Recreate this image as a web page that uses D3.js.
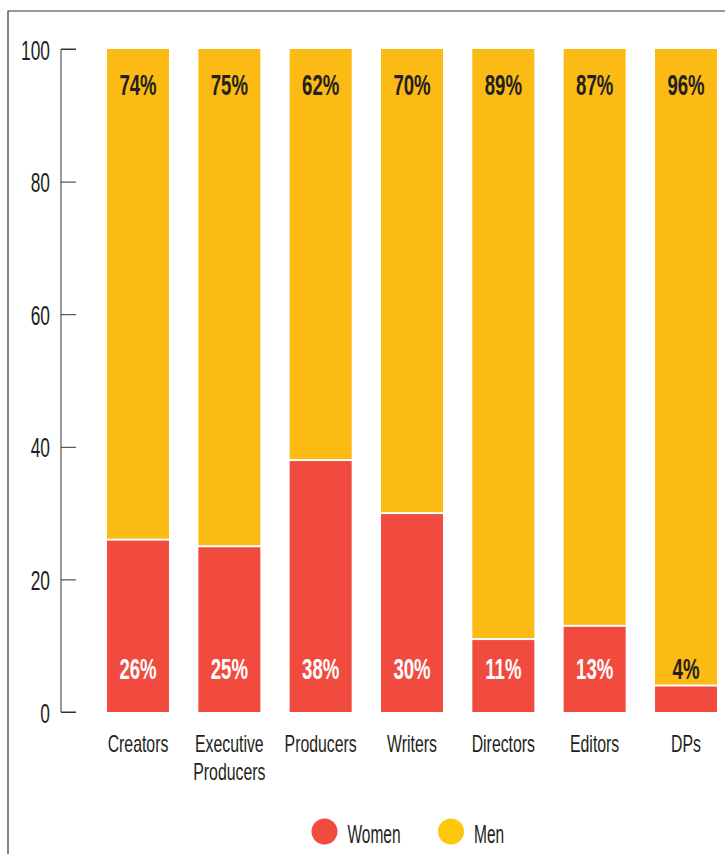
<!DOCTYPE html>
<html>
<head>
<meta charset="utf-8">
<script src="https://cdn.jsdelivr.net/npm/d3@7"></script>
<style>
  html, body { margin: 0; padding: 0; background: #fff; }
  svg text { font-family: "Liberation Sans", Arial, sans-serif; }
</style>
</head>
<body>
<div id="chart"></div>
<script>
const categories = [["Creators"], ["Executive", "Producers"], ["Producers"], ["Writers"], ["Directors"], ["Editors"], ["DPs"]];
const women = [26, 25, 38, 30, 11, 13, 4];
const men = [74, 75, 62, 70, 89, 87, 96];
const yTicks = [0, 20, 40, 60, 80, 100];
const seriesNames = ["Women", "Men"];

const width = 725, height = 854;
const red = "#F04B3E", yellow = "#FBBA14";
const ink = "#231f20";
const SX = 0.62; // horizontal squeeze to mimic a condensed face
const SXC = 0.66; // category labels

const svg = d3.select("#chart").append("svg")
  .attr("width", width)
  .attr("height", height);

// frame
svg.append("path")
  .attr("d", `M8,${height} V11 H${width}`)
  .attr("fill", "none")
  .attr("stroke", "#333")
  .attr("stroke-width", 1.2);

const x = d3.scaleBand()
  .domain(d3.range(categories.length))
  .range([79.6, 744.4])
  .paddingInner(0.321)
  .paddingOuter(0.3);

const y = d3.scaleLinear()
  .domain([0, 100])
  .range([712, 49]);

// y axis
const yAxis = d3.axisRight(y).tickValues(yTicks).tickSize(15).tickFormat(d => d);
const ya = svg.append("g").attr("transform", "translate(61,0)").call(yAxis);
ya.select(".domain").attr("stroke", "#333").attr("d", `M15,${y(100)}H0V${y(0)}H15`);
ya.selectAll(".tick line").attr("stroke", "#333");
ya.selectAll(".tick text")
  .attr("transform", `scale(${SX},1)`)
  .attr("x", -11 / SX)
  .attr("text-anchor", "end")
  .attr("fill", ink)
  .attr("font-size", 28)
  .attr("dy", "0.36em");

const data = categories.map((c, i) => ({ i, cat: c, w: women[i], m: men[i] }));
const cx = d => x(d.i) + x.bandwidth() / 2;

const g = svg.append("g");

// men (top)
g.selectAll("rect.men").data(data).enter().append("rect")
  .attr("class", "men")
  .attr("x", d => x(d.i))
  .attr("width", x.bandwidth())
  .attr("y", y(100))
  .attr("height", d => y(d.w) - y(100) - 1)
  .attr("fill", yellow);

// women (bottom)
g.selectAll("rect.women").data(data).enter().append("rect")
  .attr("class", "women")
  .attr("x", d => x(d.i))
  .attr("width", x.bandwidth())
  .attr("y", d => y(d.w) + 1)
  .attr("height", d => y(0) - y(d.w) - 1)
  .attr("fill", red);

// value labels
g.selectAll("text.menlab").data(data).enter().append("text")
  .attr("transform", `scale(${SX},1)`)
  .attr("x", d => cx(d) / SX)
  .attr("y", 95)
  .attr("text-anchor", "middle")
  .attr("font-size", 30)
  .attr("font-weight", "bold")
  .attr("fill", ink)
  .text(d => d.m + "%");

g.selectAll("text.womlab").data(data).enter().append("text")
  .attr("transform", `scale(${SX},1)`)
  .attr("x", d => cx(d) / SX)
  .attr("y", 679)
  .attr("text-anchor", "middle")
  .attr("font-size", 30)
  .attr("font-weight", "bold")
  .attr("fill", d => d.w < 8 ? ink : "#fff")
  .text(d => d.w + "%");

// category labels
const cl = g.selectAll("text.cat").data(data).enter().append("text")
  .attr("transform", `scale(${SXC},1)`)
  .attr("y", 752)
  .attr("text-anchor", "middle")
  .attr("font-size", 24)
  .attr("fill", ink);
cl.selectAll("tspan").data(d => d.cat.map(t => ({ t, x: cx(d) }))).enter().append("tspan")
  .attr("x", d => d.x / SXC)
  .attr("dy", (d, j) => j === 0 ? 0 : 28)
  .text(d => d.t);

// legend
const legendColors = [red, "#FDC70C"];
const legendX = [324.5, 451];
const lg = svg.append("g");
seriesNames.forEach((s, i) => {
  lg.append("circle").attr("cx", legendX[i]).attr("cy", 831.5).attr("r", 13).attr("fill", legendColors[i]);
  lg.append("text")
    .attr("transform", `scale(${SX},1)`)
    .attr("x", (legendX[i] + 23) / SX).attr("y", 843)
    .attr("font-size", 25).attr("fill", ink).text(s);
});
</script>
</body>
</html>
